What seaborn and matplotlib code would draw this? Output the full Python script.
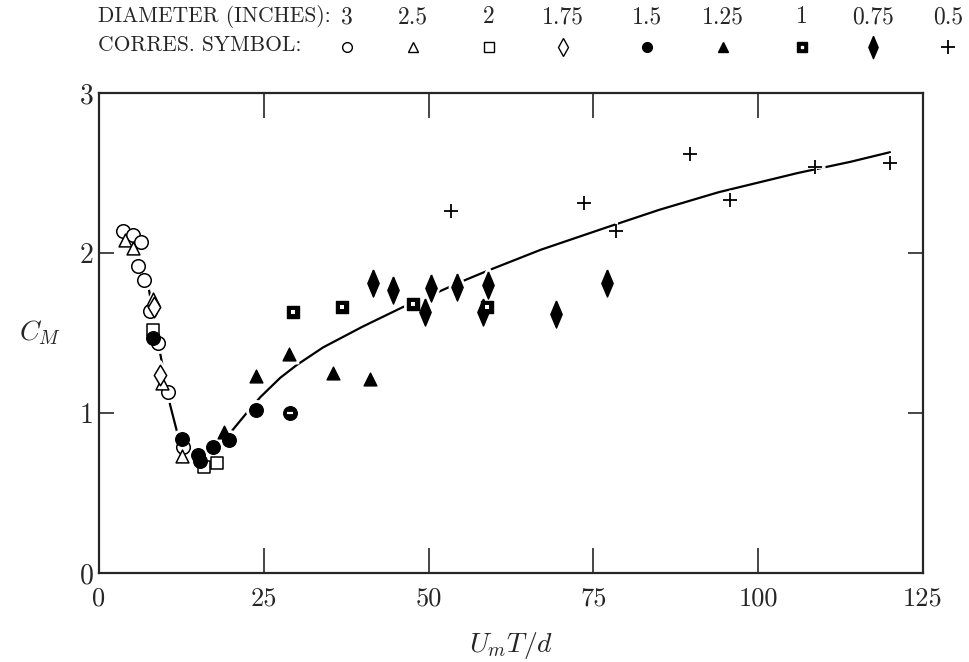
import matplotlib
matplotlib.use("Agg")
import matplotlib.pyplot as plt
import seaborn as sns
import pandas as pd
from matplotlib.lines import Line2D

# ---------------- data ----------------
diam_labels = ["3", "2.5", "2", "1.75", "1.5", "1.25", "1", "0.75", "0.5"]

d3_x = [3.6, 5.2, 6.4, 5.9, 6.8, 7.7, 9.0, 10.5, 12.7]
d3_y = [2.14, 2.11, 2.07, 1.92, 1.83, 1.64, 1.44, 1.13, 0.79]
d25_x = [3.9, 5.2, 8.2, 9.6, 12.6]
d25_y = [2.08, 2.03, 1.71, 1.19, 0.73]
d2_x = [8.2, 15.9, 17.9]
d2_y = [1.52, 0.66, 0.69]
d175_x = [8.3, 9.3]
d175_y = [1.66, 1.24]
d15_x = [8.2, 12.6, 15.0, 15.4, 17.3, 19.7, 23.8, 29.0]
d15_y = [1.47, 0.84, 0.74, 0.70, 0.79, 0.83, 1.02, 1.00]
d125_x = [19.0, 23.8, 28.8, 35.5, 41.1]
d125_y = [0.88, 1.23, 1.37, 1.25, 1.21]
d1_x = [29.4, 36.9, 47.6, 58.9]
d1_y = [1.63, 1.66, 1.68, 1.66]
d075_x = [41.6, 44.6, 49.5, 50.4, 54.3, 58.3, 59.0, 69.3, 77.1]
d075_y = [1.81, 1.77, 1.63, 1.78, 1.79, 1.63, 1.80, 1.62, 1.81]
d05_x = [53.4, 73.6, 78.5, 89.7, 95.8, 108.6, 120.0]
d05_y = [2.26, 2.31, 2.14, 2.62, 2.33, 2.54, 2.56]

curve_x = [4.5, 6.2, 7.3, 8.3, 9.3, 10.8, 11.8, 13, 14.5, 16, 18, 20.2, 22.4, 24.5,
           27.5, 30, 34, 40, 46, 50, 55.5, 59, 67, 77, 85, 94, 100, 106, 114, 120]
curve_y = [2.12, 2.0, 1.84, 1.6, 1.37, 1.05, 0.89, 0.77, 0.71, 0.70, 0.77, 0.89, 1.0, 1.1,
           1.22, 1.30, 1.41, 1.54, 1.66, 1.73, 1.83, 1.89, 2.02, 2.16, 2.27, 2.38, 2.44,
           2.50, 2.57, 2.63]

x_ticks = [0, 25, 50, 75, 100, 125]
y_ticks = [0, 1, 2, 3]

# ---------------- style ----------------
sns.set_style("ticks")
plt.rcParams["font.family"] = ["cmr10", "DejaVu Serif"]
plt.rcParams["mathtext.fontset"] = "cm"
plt.rcParams["axes.formatter.use_mathtext"] = True

thin_diamond = [(0, 1), (0.42, 0), (0, -1), (-0.42, 0), (0, 1)]

# (x, y, marker, face, edge, size, linewidth)
series = [
    (d3_x, d3_y, "o", "white", "black", 95, 1.1),
    (d25_x, d25_y, "^", "white", "black", 85, 1.1),
    (d2_x, d2_y, "s", "white", "black", 70, 1.1),
    (d175_x, d175_y, "d", "white", "black", 110, 1.1),
    (d15_x, d15_y, "o", "black", "black", 95, 1.0),
    (d125_x, d125_y, "^", "black", "black", 85, 1.0),
    (d1_x, d1_y, "s", "black", "black", 70, 1.0),
    (d075_x, d075_y, thin_diamond, "black", "black", 380, 1.0),
    (d05_x, d05_y, "+", "black", "black", 110, 1.3),
]

fig = plt.figure(figsize=(9.7, 6.62), dpi=100)
ax = fig.add_axes([0.102, 0.1344, 0.8495, 0.7251])

curve_df = pd.DataFrame({"x": curve_x, "y": curve_y})
sns.lineplot(data=curve_df, x="x", y="y", sort=False, color="black", lw=1.6, ax=ax, zorder=1)

# white halos to break the curve around markers
for xs, ys, m, fc, ec, s, lw in series:
    df = pd.DataFrame({"x": xs, "y": ys})
    sns.scatterplot(data=df, x="x", y="y", marker=m, s=s * 1.8, color="white",
                    edgecolor="white", linewidth=2, ax=ax, zorder=2)

for xs, ys, m, fc, ec, s, lw in series:
    df = pd.DataFrame({"x": xs, "y": ys})
    if isinstance(m, str) and m == "+":
        sns.scatterplot(data=df, x="x", y="y", marker=m, s=s, color="black",
                        linewidth=lw, ax=ax, zorder=3)
    else:
        sns.scatterplot(data=df, x="x", y="y", marker=m, s=s, facecolor=fc,
                        edgecolor=ec, linewidth=lw, ax=ax, zorder=3)
# white dot in filled squares
sns.scatterplot(data=pd.DataFrame({"x": d1_x, "y": d1_y}), x="x", y="y", marker="s",
                s=5, color="white", edgecolor="white", linewidth=0, ax=ax, zorder=4)
# white dash in the last filled circle
sns.scatterplot(data=pd.DataFrame({"x": d15_x[-1:], "y": d15_y[-1:]}), x="x", y="y",
                marker="_", s=18, color="white", linewidth=1.6, ax=ax, zorder=4)

ax.set_xlim(0, 125)
ax.set_ylim(0, 3)
ax.set_xticks(x_ticks)
ax.set_yticks(y_ticks)
ax.set_xticklabels([str(t) for t in x_ticks])
ax.set_yticklabels([str(t) for t in y_ticks])
ax.tick_params(axis="x", direction="in", length=18, width=1.2, top=True, bottom=True,
               labelsize=19, pad=10)
ax.tick_params(axis="y", direction="in", length=11, width=1.2, left=True, right=True,
               labelsize=20, pad=4)
for t in ax.xaxis.get_major_ticks():
    if t.get_loc() in (0, 125):
        t.tick1line.set_visible(False)
        t.tick2line.set_visible(False)
for t in ax.yaxis.get_major_ticks():
    if t.get_loc() in (0, 3):
        t.tick1line.set_visible(False)
        t.tick2line.set_visible(False)
for sp in ax.spines.values():
    sp.set_visible(True)
    sp.set_linewidth(1.6)

ax.set_xlabel(r"$U_mT/d$", fontsize=20, labelpad=14)
ax.set_ylabel(r"$C_M$", fontsize=20, rotation=0, labelpad=28, va="center")

# ---------------- header legend ----------------
fig.text(98 / 970, 1 - 17 / 662, "DIAMETER (INCHES):", fontsize=15.5, ha="left", va="center")
fig.text(98 / 970, 1 - 45 / 662, "CORRES. SYMBOL:", fontsize=15.5, ha="left", va="center")
leg_x = [347, 413, 489, 563, 647, 723, 802, 873, 948]
for lab, xp, (xs, ys, m, fc, ec, s, lw) in zip(diam_labels, leg_x, series):
    fig.text(xp / 970, 1 - 17 / 662, lab, fontsize=17, ha="center", va="center")
    if isinstance(m, str):
        ms = {"o": 7, "^": 7, "s": 6.5, "d": 9, "+": 10}[m]
    else:
        ms = 16
    fig.add_artist(Line2D([xp / 970], [1 - 47 / 662], marker=m, markersize=ms,
                          markerfacecolor=fc, markeredgecolor=ec,
                          markeredgewidth=1.0 if m != "+" else 1.3,
                          linestyle="none", transform=fig.transFigure))
    if fc == "black" and isinstance(m, str) and m == "s":
        fig.add_artist(Line2D([xp / 970], [1 - 47 / 662], marker="s", markersize=1.5,
                              markerfacecolor="white", markeredgecolor="white",
                              linestyle="none", transform=fig.transFigure))

fig.savefig("out.png", dpi=100)
